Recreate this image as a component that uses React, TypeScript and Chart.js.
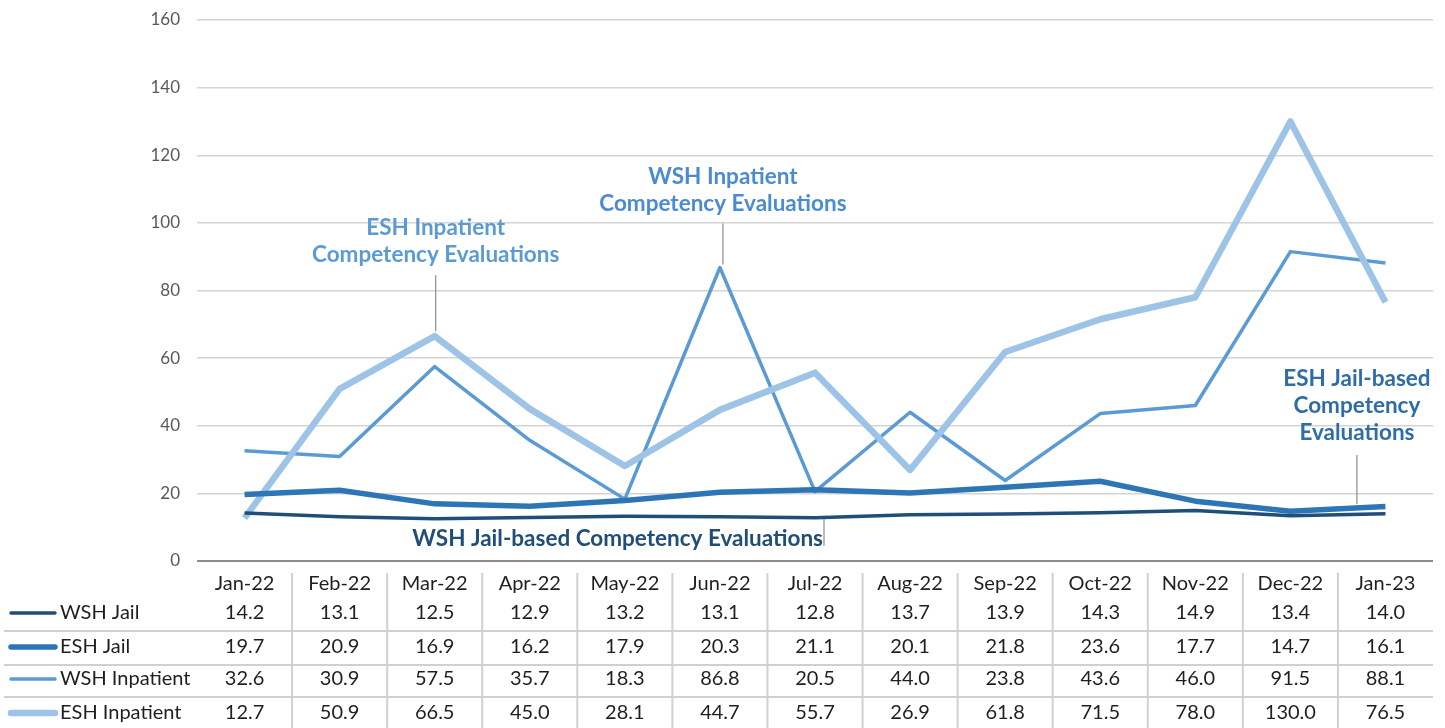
import React, { useEffect, useRef } from "react";
import { Chart, registerables } from "chart.js";

Chart.register(...registerables);

const months = ["Jan-22", "Feb-22", "Mar-22", "Apr-22", "May-22", "Jun-22", "Jul-22", "Aug-22", "Sep-22", "Oct-22", "Nov-22", "Dec-22", "Jan-23"];
const wshJail = [14.2, 13.1, 12.5, 12.9, 13.2, 13.1, 12.8, 13.7, 13.9, 14.3, 14.9, 13.4, 14.0];
const eshJail = [19.7, 20.9, 16.9, 16.2, 17.9, 20.3, 21.1, 20.1, 21.8, 23.6, 17.7, 14.7, 16.1];
const wshInpatient = [32.6, 30.9, 57.5, 35.7, 18.3, 86.8, 20.5, 44.0, 23.8, 43.6, 46.0, 91.5, 88.1];
const eshInpatient = [12.7, 50.9, 66.5, 45.0, 28.1, 44.7, 55.7, 26.9, 61.8, 71.5, 78.0, 130.0, 76.5];
const seriesNames = ["WSH Jail", "ESH Jail", "WSH Inpatient", "ESH Inpatient"];
const yMin = 0;
const yMax = 160;
const yStep = 20;

const colors = ["#1F4E79", "#2E75B6", "#5B9BD5", "#9DC3E6"];
const widths = [3.5, 5.5, 3.5, 6.5];
const FONT = "Lato, 'Noto Sans', sans-serif";

const tablePlugin = {
  id: "tablePlugin",
  afterDraw(chart: any) {
    const ctx = chart.ctx;
    const area = chart.chartArea;
    const xs = chart.scales.x;
    const ys = chart.scales.y;
    const allSeries = [wshJail, eshJail, wshInpatient, eshInpatient];
    ctx.save();
    // axis line
    ctx.strokeStyle = "#8C8C8C";
    ctx.lineWidth = 2;
    ctx.beginPath();
    ctx.moveTo(area.left, area.bottom);
    ctx.lineTo(area.right, area.bottom);
    ctx.stroke();

    const headerY = area.bottom + 23;
    const rowYs = [area.bottom + 52, area.bottom + 86, area.bottom + 118, area.bottom + 152];
    const hLines = [area.bottom + 70, area.bottom + 104, area.bottom + 136];
    ctx.strokeStyle = "#D0D0D0";
    ctx.lineWidth = 2;
    hLines.forEach((y) => {
      ctx.beginPath();
      ctx.moveTo(4, y);
      ctx.lineTo(area.right, y);
      ctx.stroke();
    });
    for (let i = 1; i < months.length; i++) {
      const bx = (xs.getPixelForValue(i - 1) + xs.getPixelForValue(i)) / 2;
      ctx.beginPath();
      ctx.moveTo(bx, area.bottom + 12);
      ctx.lineTo(bx, chart.height);
      ctx.stroke();
    }
    ctx.fillStyle = "#1F1F1F";
    ctx.font = `20px ${FONT}`;
    ctx.textAlign = "center";
    ctx.textBaseline = "middle";
    months.forEach((m, i) => {
      ctx.fillText(m, xs.getPixelForValue(i), headerY);
    });
    allSeries.forEach((s, r) => {
      s.forEach((v, i) => {
        ctx.fillText(v.toFixed(1), xs.getPixelForValue(i), rowYs[r]);
      });
    });
    // legend keys
    seriesNames.forEach((n, r) => {
      ctx.strokeStyle = colors[r];
      ctx.lineWidth = widths[r];
      ctx.lineCap = "round";
      ctx.beginPath();
      ctx.moveTo(11, rowYs[r]);
      ctx.lineTo(55, rowYs[r]);
      ctx.stroke();
      ctx.fillStyle = "#1F1F1F";
      ctx.textAlign = "left";
      ctx.fillText(n, 60, rowYs[r]);
    });
    ctx.lineCap = "butt";

    // annotations
    const px = (i: number) => xs.getPixelForValue(i);
    const py = (v: number) => ys.getPixelForValue(v);
    const drawLeader = (x: number, y1: number, y2: number) => {
      ctx.strokeStyle = "#8C8C8C";
      ctx.lineWidth = 1.2;
      ctx.beginPath();
      ctx.moveTo(x, y1);
      ctx.lineTo(x, y2);
      ctx.stroke();
    };
    const drawText = (lines: string[], cx: number, y0: number, color: string, align = "center") => {
      ctx.fillStyle = color;
      ctx.font = `bold 22.5px ${FONT}`;
      ctx.textAlign = align;
      ctx.textBaseline = "middle";
      lines.forEach((l, k) => ctx.fillText(l, cx, y0 + k * 27));
    };
    // ESH Inpatient (Mar-22)
    const eX = px(2) + 1;
    drawLeader(eX, py(eshInpatient[2]) - 61, py(eshInpatient[2]) - 5);
    drawText(["ESH Inpatient", "Competency Evaluations"], eX, 228, "#5B9BD5");
    // WSH Inpatient (Jun-22)
    const wX = px(5) + 3;
    drawLeader(wX, py(wshInpatient[5]) - 44, py(wshInpatient[5]) - 3);
    drawText(["WSH Inpatient", "Competency Evaluations"], wX, 177, "#4A8CCF");
    // WSH Jail (around Jul-22)
    const jX = px(6) + 9;
    drawLeader(jX, py(wshJail[6]) + 1, py(wshJail[6]) + 28);
    drawText(["WSH Jail-based Competency Evaluations"], jX - 1, 539, "#1F4E79", "right");
    // ESH Jail (between Dec-22 and Jan-23)
    const sX = px(11.7);
    drawLeader(sX, 455, py(15.6) - 4);
    drawText(["ESH Jail-based", "Competency", "Evaluations"], sX, 379, "#2E6DA6");
    ctx.restore();
  },
};

export default function App() {
  const ref = useRef<HTMLCanvasElement | null>(null);
  useEffect(() => {
    if (!ref.current) return;
    const ds = [wshJail, eshJail, wshInpatient, eshInpatient].map((d, i) => ({
      label: seriesNames[i],
      data: d,
      borderColor: colors[i],
      backgroundColor: colors[i],
      borderWidth: widths[i],
      pointRadius: 0,
      pointHoverRadius: 0,
      tension: 0,
      fill: false,
      order: [1, 2, 4, 3][i],
      borderJoinStyle: "round" as const,
    }));
    const chart = new Chart(ref.current, {
      type: "line",
      data: { labels: months, datasets: ds },
      options: {
        responsive: false,
        animation: false,
        layout: { padding: { top: 20, right: 12, bottom: 167, left: 0 } },
        plugins: { legend: { display: false }, tooltip: { enabled: false } },
        scales: {
          x: { display: false, offset: true },
          y: {
            min: yMin,
            max: yMax,
            ticks: { stepSize: yStep, color: "#595959", font: { family: FONT, size: 17 }, padding: 17 },
            grid: { color: "#D4D4D4", lineWidth: 1.5, drawTicks: false },
            border: { display: false },
            afterFit: (s: any) => {
              s.width = 197;
              s.paddingTop = 0;
              s.paddingBottom = 0;
            },
          },
        },
      },
      plugins: [tablePlugin],
    });
    return () => chart.destroy();
  }, []);
  return (
    <div style={{ position: "absolute", left: 0, top: 0, width: 1445, height: 728, background: "#fff" }}>
      <canvas ref={ref} width={1445} height={728} />
    </div>
  );
}
